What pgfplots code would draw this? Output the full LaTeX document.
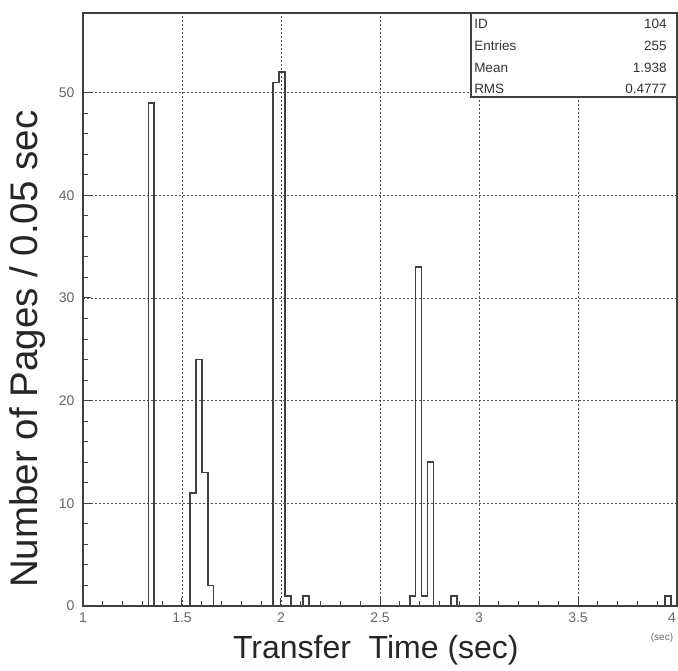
\documentclass[border=0pt]{standalone}
\usepackage{fontspec}
\setmainfont{Liberation Sans}
\usepackage{pgfplots}
\pgfplotsset{compat=1.18}

\begin{document}
\begin{tikzpicture}
\begin{axis}[
    scale only axis,
    width=594pt, height=593pt,
    xmin=1, xmax=4,
    ymin=0, ymax=57.75,
    xtick={1,1.5,2,2.5,3,3.5,4},
    xticklabels={1,1.5,2,2.5,3,3.5,{\makebox[0pt][r]{4\hspace{1pt}}}},
    ytick={0,10,20,30,40,50},
    minor x tick num=4,
    minor y tick num=4,
    xtick pos=bottom, ytick pos=left,
    tick align=inside,
    major tick length=8pt, minor tick length=5pt,
    every tick/.style={black!75, line width=1pt},
    grid=major,
    grid style={black!70, line width=0.6pt, dash pattern=on 2pt off 2pt},
    axis line style={black!75, line width=1.4pt},
    tick label style={font=\fontsize{14}{14}\selectfont, text=black!60},
    xticklabel style={yshift=-3pt},
    yticklabel style={xshift=-5pt},
    /pgf/number format/assume math mode=true,
    xlabel={Transfer\ \ Time (sec)},
    ylabel={Number of Pages / 0.05 sec},
    xlabel style={font=\fontsize{32}{34}\selectfont, text=black!85,
        at={(axis description cs:0.493,-0.074)}, anchor=center},
    ylabel style={font=\fontsize{38.5}{40}\selectfont, text=black!85,
        at={(axis description cs:-0.0926,0.433)}, anchor=center},
]
% histogram, 0.03 wide bins, left edges
\addplot[const plot, black!75, line width=1.6pt] coordinates {
    (1.00,0) (1.33,49) (1.36,0) (1.54,11) (1.57,24) (1.60,13) (1.63,2) (1.66,0)
    (1.96,51) (1.99,52) (2.02,1) (2.05,0) (2.11,1) (2.14,0)
    (2.65,1) (2.68,33) (2.71,1) (2.74,14) (2.77,0) (2.86,1) (2.89,0)
    (3.94,1) (3.97,0) (4.00,0)
};
% stats box
\draw[black!75, line width=1.2pt, fill=white] (axis cs:2.96,49.56) rectangle (axis cs:4,57.75);
\begin{scope}[every node/.style={font=\fontsize{13.5}{13.5}\selectfont, text=black!80, inner sep=0pt}]
\node[anchor=base west] at (axis cs:2.975,56.28) {ID};
\node[anchor=base west] at (axis cs:2.975,54.14) {Entries};
\node[anchor=base west] at (axis cs:2.975,51.99) {Mean};
\node[anchor=base west] at (axis cs:2.975,49.95) {RMS};
\node[anchor=base east] at (axis cs:3.949,56.28) {104};
\node[anchor=base east] at (axis cs:3.949,54.14) {255};
\node[anchor=base east] at (axis cs:3.949,51.99) {1.938};
\node[anchor=base east] at (axis cs:3.949,49.95) {0.4777};
\end{scope}
\end{axis}
\node[font=\fontsize{10}{10}\selectfont, text=black!60] at (579pt,-32pt) {(sec)};
\pgfresetboundingbox
\useasboundingbox (-83pt,-65pt) rectangle (595pt,606pt);
\end{tikzpicture}
\end{document}
